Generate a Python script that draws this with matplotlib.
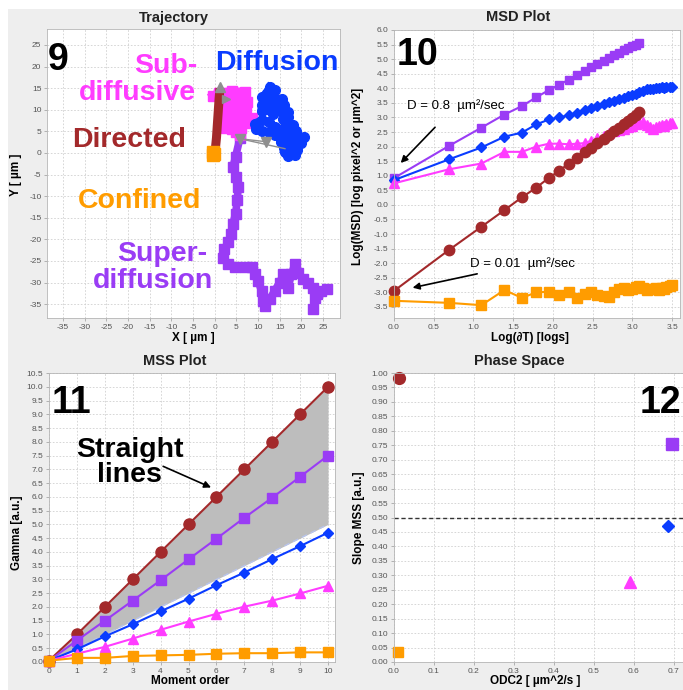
import matplotlib
matplotlib.use("Agg")
from matplotlib import pyplot as plt
from matplotlib.patches import Rectangle
from matplotlib.ticker import FormatStrFormatter

plt.rcParams['font.family'] = ['Liberation Sans', 'DejaVu Sans']
plt.rcParams['axes.unicode_minus'] = False

W, H = 683, 690

C_BROWN = '#a3292b'
C_PURPLE = '#9a3cf5'
C_BLUE = '#0a3cff'
C_MAGENTA = '#ff3cff'
C_ORANGE = '#ff9c00'
C_GRAY = '#8f8f8f'

# --- trajectory (panel 9) ---
super_x = [5.8, 4.8, 4.2, 5.0, 5.4, 5.2, 4.8, 4.2, 3.8, 3.1, 2.2, 1.9, 3.1, 4.6, 6.9, 8.5,
           9.2, 10.0, 10.8, 11.2, 11.5, 12.7, 13.8, 15.0, 15.8, 16.2, 16.9, 17.7, 18.5,
           19.2, 20.4, 21.5, 22.7, 23.1, 22.7, 23.5, 24.6, 25.8]
super_y = [3.4, -0.9, -3.3, -5.6, -7.9, -11.0, -14.1, -16.4, -18.8, -20.7, -22.2, -24.2,
           -25.7, -26.5, -26.5, -26.5, -28.1, -29.6, -31.9, -34.3, -35.4, -33.9, -31.9,
           -30.0, -28.1, -29.6, -31.2, -28.1, -25.7, -27.7, -29.2, -30.0, -31.2, -33.5,
           -36.2, -32.7, -31.9, -31.6]
sub_x = [-0.5, 1.0, 4.0, 7.0, 6.8, 4.0, 1.5, 1.8, 4.5, 7.4, 7.2, 4.5, 2.0, 2.2, 4.8, 7.0,
         8.6, 5.0, 2.0, 2.2, 5.0, 7.2, 6.0, 4.0, 2.5, 4.8, 5.8]
sub_y = [13.2, 14.0, 14.3, 14.1, 13.0, 12.8, 13.0, 11.8, 12.0, 11.8, 10.6, 10.4, 10.6, 9.4,
         9.2, 9.4, 8.0, 8.2, 8.2, 7.0, 6.8, 7.0, 5.8, 5.6, 5.8, 4.8, 4.2]
diff_x = [12.7, 13.8, 12.0, 11.0, 13.5, 15.5, 16.0, 13.5, 11.0, 10.8, 12.8, 13.5, 15.5,
          16.8, 17.0, 15.8, 16.5, 18.0, 18.8, 17.0, 15.5, 13.8, 12.5, 11.0, 9.3, 9.5, 11.0,
          12.5, 14.0, 15.5, 17.0, 19.0, 20.5, 20.0, 18.5, 16.8, 15.2, 16.0, 17.8, 19.0,
          18.5, 17.0, 16.2]
diff_y = [15.2, 14.6, 13.8, 13.0, 12.8, 12.4, 11.2, 11.4, 11.0, 9.8, 10.0, 9.0, 9.8, 9.6,
          8.4, 7.8, 6.6, 6.4, 5.2, 5.0, 5.4, 6.0, 7.2, 7.6, 6.8, 5.6, 5.0, 4.8, 4.2, 3.6,
          3.8, 4.0, 3.6, 2.4, 2.2, 2.0, 2.6, 1.2, 1.0, 0.6, -0.4, -0.6, 0.2]
dir_x = [0.1, 0.4, 0.6, 0.8, 1.0, 1.2]
dir_y = [0.5, 3.5, 6.5, 9.5, 12.5, 15.0]
conf_x = [-0.4, -0.2, -0.5]
conf_y = [0.2, -0.3, -0.5]
arrow_x = [1.15, 2.7, 5.8, 11.9]
arrow_y = [15.3, 12.6, 3.3, 2.6]

# --- MSD (panel 10) ---
log_t = [0.00, 0.69, 1.10, 1.39, 1.61, 1.79, 1.95, 2.08, 2.20, 2.30, 2.40, 2.48, 2.56, 2.64,
         2.71, 2.77, 2.83, 2.89, 2.94, 3.00, 3.04, 3.09, 3.14, 3.18, 3.22, 3.26, 3.30, 3.33,
         3.37, 3.40, 3.43, 3.47, 3.50]
msd_purple = [0.92, 2.02, 2.65, 3.10, 3.39, 3.69, 3.94, 4.12, 4.30, 4.45, 4.60, 4.72, 4.84,
              4.95, 5.05, 5.14, 5.22, 5.30, 5.38, 5.45, 5.50, 5.55]
msd_brown = [-2.95, -1.55, -0.75, -0.18, 0.26, 0.59, 0.93, 1.17, 1.42, 1.62, 1.80, 1.96,
             2.12, 2.27, 2.41, 2.53, 2.65, 2.77, 2.87, 2.99, 3.08, 3.18]
msd_blue = [0.85, 1.56, 1.97, 2.34, 2.48, 2.76, 2.93, 3.00, 3.08, 3.15, 3.25, 3.32, 3.40,
            3.45, 3.52, 3.58, 3.62, 3.68, 3.72, 3.76, 3.82, 3.86, 3.92, 3.96, 3.98, 3.97,
            4.00, 4.01, 4.03, 4.02, 4.04, 4.06, 4.05]
msd_magenta = [0.74, 1.22, 1.42, 1.82, 1.82, 2.00, 2.10, 2.10, 2.08, 2.10, 2.12, 2.20, 2.28,
               2.38, 2.45, 2.52, 2.58, 2.62, 2.68, 2.72, 2.76, 2.82, 2.85, 2.75, 2.66, 2.62,
               2.66, 2.70, 2.75, 2.72, 2.78, 2.82, 2.80]
msd_orange = [-3.29, -3.36, -3.44, -2.92, -3.19, -3.00, -2.98, -3.10, -2.98, -3.21, -3.04,
              -2.98, -3.10, -3.12, -3.15, -2.98, -2.90, -2.85, -2.92, -2.87, -2.81, -2.79,
              -2.85, -2.92, -2.90, -2.88, -2.84, -2.92, -2.86, -2.88, -2.80, -2.78, -2.75]

# --- MSS (panel 11) ---
order = [0, 1, 2, 3, 4, 5, 6, 7, 8, 9, 10]
mss_brown = [0.05, 1.0, 2.0, 3.0, 4.0, 5.0, 6.0, 7.0, 8.0, 9.0, 10.0]
mss_purple = [0.05, 0.78, 1.50, 2.23, 2.97, 3.73, 4.48, 5.24, 5.97, 6.73, 7.50]
mss_blue = [0.05, 0.46, 0.93, 1.37, 1.84, 2.30, 2.79, 3.25, 3.74, 4.21, 4.70]
mss_magenta = [0.05, 0.30, 0.55, 0.85, 1.17, 1.47, 1.75, 2.01, 2.23, 2.49, 2.77]
mss_orange = [0.05, 0.15, 0.15, 0.22, 0.24, 0.26, 0.30, 0.32, 0.32, 0.35, 0.35]
mss_half = [0.0, 0.5, 1.0, 1.5, 2.0, 2.5, 3.0, 3.5, 4.0, 4.5, 5.0]

# --- phase space (panel 12) ---
odc2 = [0.0125, 0.696, 0.686, 0.591, 0.011]
slope = [0.983, 0.755, 0.472, 0.277, 0.035]
ps_colors = [C_BROWN, C_PURPLE, C_BLUE, C_MAGENTA, C_ORANGE]
ps_markers = ['o', 's', 'D', '^', 's']
ps_sizes = [8.5, 8, 6.5, 8, 7.5]


def box(l, t, r, b):
    return [l / W, 1 - b / H, (r - l) / W, (b - t) / H]


def ftext(x, y, s, **kw):
    fig.text(x / W, 1 - y / H, s, **kw)


def style(ax, xlim, ylim, xticks, yticks, xfmt, yfmt):
    ax.set_xlim(*xlim)
    ax.set_ylim(*ylim)
    ax.set_xticks(xticks)
    ax.set_yticks(yticks)
    ax.xaxis.set_major_formatter(FormatStrFormatter(xfmt))
    ax.yaxis.set_major_formatter(FormatStrFormatter(yfmt))
    ax.tick_params(labelsize=6, labelcolor='#555555', length=2, width=0.5,
                   color='#999999', pad=2)
    ax.grid(True, color='#d0d0d0', linestyle=(0, (2, 2)), lw=0.6)
    ax.set_axisbelow(True)
    for sp in ax.spines.values():
        sp.set_color('#b5b5b5')
        sp.set_linewidth(0.6)


fig = plt.figure(figsize=(W / 100, H / 100), dpi=100, facecolor='white')
fig.patches.append(Rectangle((8 / W, 0), 1, 1 - 9 / H, transform=fig.transFigure,
                             facecolor='#eeeeee', edgecolor='none', zorder=-10))

big = dict(fontsize=20.5, fontweight='bold', va='baseline')
num = dict(fontsize=27, fontweight='bold', va='baseline', color='black')
lab = dict(fontsize=8.5, fontweight='bold', ha='center', va='center')
ttl = dict(fontsize=10.5, fontweight='bold', ha='center', va='center', color='#222222')

# panel 9
ax1 = fig.add_axes(box(47, 29, 340, 318))
style(ax1, (-38.7, 28.9), (-38.2, 28.7), range(-35, 30, 5), range(-35, 30, 5), '%d', '%d')
ax1.plot(super_x, super_y, color=C_PURPLE, lw=5.5, marker='s', ms=7, zorder=2)
ax1.plot(sub_x, sub_y, color=C_MAGENTA, lw=6, marker='s', ms=7, zorder=3)
ax1.plot(diff_x, diff_y, color=C_BLUE, lw=6, marker='o', ms=7, zorder=4)
ax1.plot([arrow_x[2], arrow_x[3]], [arrow_y[2], arrow_y[3]], color=C_GRAY, lw=1, zorder=5)
ax1.plot([arrow_x[2], 16.2], [arrow_y[2], 1.0], color=C_GRAY, lw=1, zorder=5)
ax1.plot(dir_x, dir_y, color=C_BROWN, lw=6.5, solid_capstyle='butt', zorder=6)
ax1.plot(conf_x, conf_y, color=C_ORANGE, lw=0, marker='s', ms=8.5, zorder=7)
ax1.plot(arrow_x[:1], arrow_y[:1], lw=0, marker='^', ms=7, color=C_GRAY, zorder=8)
ax1.plot(arrow_x[1:2], arrow_y[1:2], lw=0, marker='>', ms=6, color=C_GRAY, zorder=8)
ax1.plot(arrow_x[2:], arrow_y[2:], lw=0, marker='v', ms=7, color=C_GRAY, zorder=8)
ftext(174, 18, 'Trajectory', **ttl)
ftext(193, 338, 'X [ µm ]', **lab)
ftext(16, 175, 'Y [ µm ]', rotation=90, **lab)
ftext(48, 70, '9', **num)
ftext(197, 73, 'Sub-', ha='right', color=C_MAGENTA, **big)
ftext(196, 100, 'diffusive', ha='right', color=C_MAGENTA, **big)
ftext(215, 70, 'Diffusion', ha='left', color=C_BLUE, **big)
ftext(72, 147, 'Directed', ha='left', color=C_BROWN, **big)
ftext(78, 208, 'Confined', ha='left', color=C_ORANGE, **big)
ftext(207, 261, 'Super-', ha='right', color=C_PURPLE, **big)
ftext(213, 288, 'diffusion', ha='right', color=C_PURPLE, **big)

# panel 10
ax2 = fig.add_axes(box(394, 30, 680, 318))
yt2 = [-3.5 + 0.5 * i for i in range(20)]
xt2 = [0.5 * i for i in range(8)]
style(ax2, (0, 3.6), (-3.88, 6.0), xt2, yt2, '%.1f', '%.1f')
ax2.plot(log_t[:len(msd_purple)], msd_purple, color=C_PURPLE, lw=1.5, marker='s', ms=6)
ax2.plot(log_t, msd_blue, color=C_BLUE, lw=1.5, marker='D', ms=5.5)
ax2.plot(log_t, msd_magenta, color=C_MAGENTA, lw=1.5, marker='^', ms=7)
ax2.plot(log_t[:len(msd_brown)], msd_brown, color=C_BROWN, lw=1.5, marker='o', ms=7.5)
ax2.plot(log_t, msd_orange, color=C_ORANGE, lw=1.5, marker='s', ms=7)
for a in ax2.lines:
    a.set_clip_on(False)
ax2.annotate('D = 0.8  µm²/sec', xy=(0.06, 1.37), xytext=(0.16, 3.39), fontsize=9.5,
             va='center', ha='left',
             arrowprops=dict(arrowstyle='-|>', color='black', lw=1.2, shrinkA=12,
                             mutation_scale=10))
ax2.annotate('D = 0.01  µm²/sec', xy=(0.2, -2.86), xytext=(0.96, -2.03), fontsize=9.5,
             va='center', ha='left',
             arrowprops=dict(arrowstyle='-|>', color='black', lw=1.2, shrinkA=2,
                             mutation_scale=10))
ftext(518, 17, 'MSD Plot', **ttl)
ftext(530, 338, 'Log(∂T) [logs]', **lab)
ftext(358, 176, 'Log(MSD) [log pixel^2 or µm^2]', rotation=90, **lab)
ftext(397, 65, '10', **num)

# panel 11
ax3 = fig.add_axes(box(49, 373, 335, 662))
style(ax3, (0, 10.25), (0, 10.5), order, [0.5 * i for i in range(22)], '%d', '%.1f')
ax3.fill_between(order, mss_half, mss_brown, color='#bdbdbd', lw=0, zorder=1)
ax3.plot(order, mss_half, color='#b8c4ec', lw=1, linestyle=(0, (4, 3)), zorder=2)
ax3.plot(order, mss_brown, color=C_BROWN, lw=1.5, marker='o', ms=8, zorder=3)
ax3.plot(order, mss_purple, color=C_PURPLE, lw=1.5, marker='s', ms=6.5, zorder=3)
ax3.plot(order, mss_blue, color=C_BLUE, lw=1.5, marker='D', ms=5.5, zorder=3)
ax3.plot(order, mss_magenta, color=C_MAGENTA, lw=1.5, marker='^', ms=7.5, zorder=3)
ax3.plot(order, mss_orange, color=C_ORANGE, lw=1.5, marker='s', ms=7.5, zorder=3)
for a in ax3.lines:
    a.set_clip_on(False)
ax3.annotate('', xy=(5.9, 6.3), xytext=(4.0, 7.15),
             arrowprops=dict(arrowstyle='-|>', color='black', lw=1.2, mutation_scale=10))
ftext(175, 361, 'MSS Plot', **ttl)
ftext(190, 681, 'Moment order', **lab)
ftext(17, 533, 'Gamma [a.u.]', rotation=90, **lab)
ftext(52, 413, '11', **num)
ftext(130, 457, 'Straight', ha='center', color='black', **big)
ftext(129, 482, 'lines', ha='center', color='black', **big)

# panel 12
ax4 = fig.add_axes(box(394, 373, 683, 662))
style(ax4, (0, 0.7225), (0, 1.0), [0.1 * i for i in range(8)],
      [0.05 * i for i in range(21)], '%.1f', '%.2f')
ax4.spines['right'].set_visible(False)
ax4.axhline(0.5, color='#333333', lw=1, linestyle=(0, (3, 2)))
for xx, yy, cc, mm, ss in zip(odc2, slope, ps_colors, ps_markers, ps_sizes):
    ax4.plot([xx], [yy], lw=0, marker=mm, ms=ss, color=cc, clip_on=False)
ftext(519, 361, 'Phase Space', **ttl)
ftext(535, 681, 'ODC2 [ µm^2/s ]', **lab)
ftext(359, 518, 'Slope MSS [a.u.]', rotation=90, **lab)
ftext(681, 413, '12', ha='right', **num)

fig.savefig('out.png', dpi=100, facecolor='white')
